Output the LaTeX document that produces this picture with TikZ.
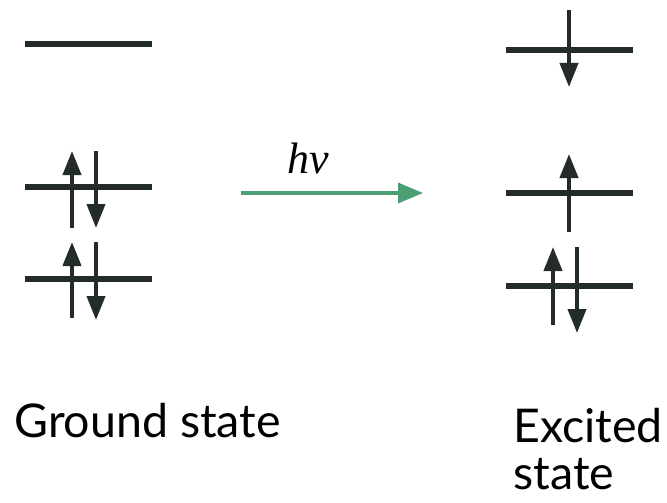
\RequirePackage{fix-cm}
\documentclass[tikz,border=0pt]{standalone}
\usepackage{fontspec}
\setmainfont{Lato}
\newfontfamily\photonfont{Liberation Serif}
\usetikzlibrary{arrows.meta}
\definecolor{leveldark}{RGB}{35,43,43}
\definecolor{photongreen}{RGB}{76,158,115}
\tikzset{every picture/.style={line width=0.75pt}}

\begin{document}
\begin{tikzpicture}[x=1pt,y=-1pt,
    level/.style={draw=leveldark, line width=5.5pt},
    spin/.style={draw=leveldark, fill=leveldark, line width=4pt, -{Triangle[width=18pt,length=24pt]}},
    photon/.style={draw=photongreen, line width=3.5pt, -{Triangle[width=20pt,length=25pt,fill=photongreen]}},
    label/.style={font=\fontsize{46.5}{47}\selectfont, inner sep=0pt}]
    \useasboundingbox (0,0) rectangle (667,503);

    % 基态能级
    \draw[level] (25,44) -- (152,44);
    \draw[level] (25,187) -- (152,187);
    \draw[level] (25,279) -- (152,279);

    % 基态电子
    \draw[spin] (72,228) -- (72,151);
    \draw[spin] (96,151) -- (96,228);
    \draw[spin] (72,318) -- (72,242);
    \draw[spin] (96,242) -- (96,320);

    % 激发态能级
    \draw[level] (506,50) -- (633,50);
    \draw[level] (506,193) -- (633,193);
    \draw[level] (506,286) -- (633,286);

    % 激发态电子
    \draw[spin] (569,10) -- (569,87);
    \draw[spin] (569,232) -- (569,154);
    \draw[spin] (553,325) -- (553,247);
    \draw[spin] (577,247) -- (577,333);

    % 光子吸收
    \coordinate (ground) at (241,193);
    \coordinate (excited) at (423,193);
    \draw[photon] (ground) -- (excited);
    \node[inner sep=0pt, anchor=base] (hnu) at (308,173) {\fontsize{44}{44}\photonfont\itshape hν};

    % 标注
    \node[label, anchor=base west] (groundlabel) at (14,437) {Ground state};
    \node[label, anchor=base west, align=left] (excitedlabel) at (513,489) {Excited\\state};
\end{tikzpicture}
\end{document}
